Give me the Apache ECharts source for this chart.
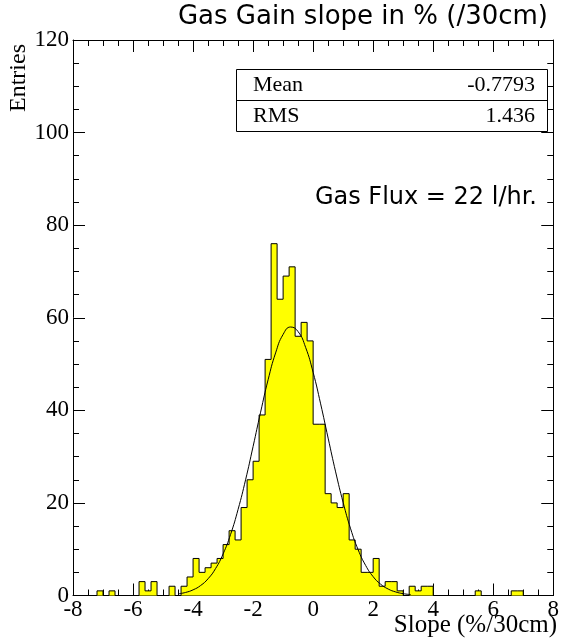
<!DOCTYPE html>
<html>
<head>
<meta charset="utf-8">
<script src="https://cdn.jsdelivr.net/npm/echarts@6/dist/echarts.min.js"></script>
<style>
html,body{margin:0;padding:0;background:#fff;}
#chart{width:562px;height:644px;}
</style>
</head>
<body>
<div id="chart"></div>
<script>
// Histogram definition
var binLow = -8;
var binWidth = 0.2;
var counts = [
  0,0,0,0,1,0,1,0,0,0,
  0,3,1,3,0,0,2,0,2,4,
  8,5,6,7,8,11,14,12,19,25,
  29,39,51,76,64,69,71,56,59,55,
  37,37,22,20,19,22,12,10,5,5,
  8,2,3,3,1,0,2,1,2,2,
  0,0,0,0,0,0,0,1,0,0,
  0,0,0,1,1,0,0,0,0,0
];
// Fit curve
var curveX = [-4.5,-4.25,-4.0,-3.75,-3.5,-3.25,-3.0,-2.75,-2.5,-2.25,-2.0,-1.75,-1.5,-1.25,-1.0,-0.75,-0.5,-0.25,0,0.25,0.5,0.75,1.0,1.25,1.5,1.75,2.0,2.25,2.5,2.75,3.0,3.25];
var curveY = [0.34,0.66,1.22,2.15,3.62,5.82,8.97,13.2,18.6,25.0,32.2,39.6,46.6,52.4,56.4,58.0,57.0,53.6,48.2,41.4,34.0,26.7,20.1,14.4,9.88,6.49,4.07,2.44,1.40,0.77,0.40,0.20];
var xTicks = [-8,-6,-4,-2,0,2,4,6,8];
var yTicks = [0,20,40,60,80,100,120];
var statsLabels = ["Mean","RMS"];
var statsValues = ["-0.7793","1.436"];
var title = "Gas Gain slope in % (/30cm)";
var note = "Gas Flux = 22 l/hr.";
var xTitle = "Slope (%/30cm)";
var yTitle = "Entries";

var histData = [];
for (var i = 0; i < counts.length; i++) {
  histData.push([binLow + i * binWidth, counts[i]]);
}
histData.push([binLow + counts.length * binWidth, 0]);
var curveData = curveX.map(function (x, i) { return [x, curveY[i]]; });

var serif = "Liberation Serif";
var chart = echarts.init(document.getElementById('chart'));
var axisCommonX = {
  type: 'value', min: xTicks[0], max: xTicks[xTicks.length-1], interval: 2,
  axisLine: {show: true, onZero: false, lineStyle: {color: '#000', width: 1}},
  axisTick: {show: true, inside: true, length: 12, lineStyle: {color: '#000'}},
  minorTick: {show: true, splitNumber: 4, length: 6, lineStyle: {color: '#000'}},
  splitLine: {show: false}
};
var axisCommonY = {
  type: 'value', min: yTicks[0], max: yTicks[yTicks.length-1], interval: 20,
  axisLine: {show: true, onZero: false, lineStyle: {color: '#000', width: 1}},
  axisTick: {show: true, inside: true, length: 12, lineStyle: {color: '#000'}},
  minorTick: {show: true, splitNumber: 4, length: 6, lineStyle: {color: '#000'}},
  splitLine: {show: false}
};
var option = {
  animation: false,
  backgroundColor: '#fff',
  grid: {left: 73, right: 5, top: 40, bottom: 48.5, containLabel: false},
  xAxis: [
    Object.assign({}, axisCommonX, {position: 'bottom',
      axisLabel: {show: true, color: '#000', fontFamily: serif, fontSize: 23, margin: 3,
        formatter: function (v) { return String(v); }}}),
    Object.assign({}, axisCommonX, {position: 'top', axisLabel: {show: false}})
  ],
  yAxis: [
    Object.assign({}, axisCommonY, {position: 'left',
      axisLabel: {show: true, color: '#000', fontFamily: serif, fontSize: 23, margin: 4}}),
    Object.assign({}, axisCommonY, {position: 'right', axisLabel: {show: false}})
  ],
  series: [
    {
      type: 'line', step: 'end', data: histData, symbol: 'none',
      lineStyle: {color: '#000', width: 1},
      areaStyle: {color: '#ffff00', opacity: 1},
      z: 2
    },
    {
      type: 'line', smooth: true, data: curveData, symbol: 'none',
      lineStyle: {color: '#000', width: 1},
      z: 3
    }
  ],
  graphic: [
    {type: 'text', right: 14, top: 4, style: {text: title, font: '26px "DejaVu Sans"', fill: '#000'}},
    {type: 'text', right: 25, top: 186, style: {text: note, font: '24px "DejaVu Sans"', fill: '#000'}},
    {type: 'text', right: 5, top: 613, style: {text: xTitle, font: '25px "Liberation Serif"', fill: '#000'}},
    {type: 'text', x: 19, y: 78, rotation: Math.PI/2,
      style: {text: yTitle, font: '24px "Liberation Serif"', fill: '#000', align: 'center', verticalAlign: 'middle'}},
    {type: 'rect', shape: {x: 236.5, y: 69.5, width: 311, height: 62},
      style: {fill: '#fff', stroke: '#000', lineWidth: 1}, z: 10},
    {type: 'line', shape: {x1: 236.5, y1: 100.5, x2: 547.5, y2: 100.5},
      style: {stroke: '#000', lineWidth: 1}, z: 11},
    {type: 'text', x: 253, y: 85, z: 12, style: {text: statsLabels[0], font: '22px "Liberation Serif"', fill: '#000', verticalAlign: 'middle'}},
    {type: 'text', x: 253, y: 116, z: 12, style: {text: statsLabels[1], font: '22px "Liberation Serif"', fill: '#000', verticalAlign: 'middle'}},
    {type: 'text', x: 535, y: 85, z: 12, style: {text: statsValues[0], font: '22px "Liberation Serif"', fill: '#000', align: 'right', verticalAlign: 'middle'}},
    {type: 'text', x: 535, y: 116, z: 12, style: {text: statsValues[1], font: '22px "Liberation Serif"', fill: '#000', align: 'right', verticalAlign: 'middle'}}
  ]
};
chart.setOption(option);
</script>
</body>
</html>
